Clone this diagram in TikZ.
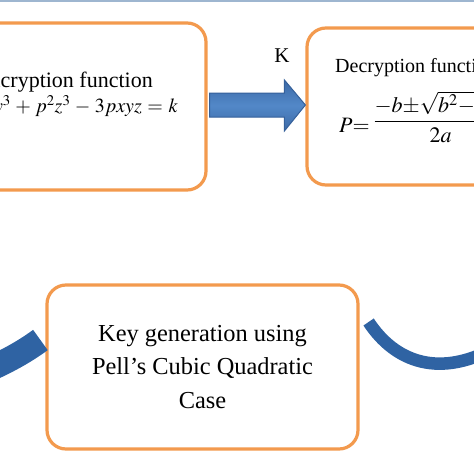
\documentclass[tikz,border=0pt]{standalone}
\usepackage{mathptmx}
\usepackage{fontspec}
\setmainfont{Liberation Serif}
\usetikzlibrary{calc}
\definecolor{boxorange}{HTML}{F39A4E}
\definecolor{topblue}{HTML}{9EB6D0}
\definecolor{arrowdark}{HTML}{3C69A6}
\definecolor{arrowlight}{HTML}{5288C8}
\definecolor{arrowedge}{HTML}{35609A}
\definecolor{curveblue}{HTML}{2F63A3}
\tikzset{
  procbox/.style={draw=boxorange, line width=3.2pt, rounded corners=19pt, fill=white, inner sep=0pt},
  blockarrow/.style={draw=arrowedge, line width=1pt, top color=arrowdark, bottom color=arrowdark, middle color=arrowlight},
  bandcurve/.style={draw=curveblue},
  titletext/.style={font=\fontsize{22}{26}\selectfont, inner sep=0pt},
  boxtext/.style={font=\fontsize{24.4}{33.5}\selectfont, align=center},
  eqtext/.style={font=\fontsize{20}{24}\selectfont, inner sep=0pt},
}
\begin{document}
\begin{tikzpicture}[x=1pt,y=-1pt]
\useasboundingbox (0,0) rectangle (474,474);
\clip (0,0) rectangle (474,474);
\fill[white] (0,0) rectangle (474,474);
\fill[topblue] (0,0) rectangle (474,2.2);

% boxes
\node[procbox, minimum width=266pt, minimum height=167pt] (enc) at (73,106.5) {};
\node[procbox, minimum width=293pt, minimum height=157pt] (dec) at (453.5,106.5) {};
\node[procbox, minimum width=311pt, minimum height=164pt, boxtext] (kg) at (202.5,367)
  {Key generation using\\Pell’s Cubic Quadratic\\Case};

% texts of the top boxes
\node[titletext, anchor=base east] (enct) at (153,87) {Encryption function};
\node[eqtext, anchor=base east] (ence) at (178,112.5)
  {\medmuskip=4mu\thickmuskip=5mu$x^3+py^3+p^2z^3-3pxyz=k$};
\node[titletext, font=\fontsize{20}{24}\selectfont, anchor=base west] (dect) at (335,72) {Decryption function};
\node[eqtext, font=\fontsize{22}{26}\selectfont, anchor=base west] (dece) at (339,132)
  {$P{=}\mkern3mu\raisebox{5pt}{$\displaystyle\frac{{-}b{\pm}\sqrt{b^2{-}4ac}}{2a}$}$};
\node[titletext, font=\fontsize{21}{25}\selectfont, anchor=base] (klab) at (282,62) {K};

% block arrow from enc to dec
\draw[blockarrow]
  ($(enc.east)+(2,-13.5)$) -- ($(dec.west)+(-21,-13.5)$) -- ($(dec.west)+(-21,-26.5)$)
  -- ($(dec.west)+(0,-1.5)$) -- ($(dec.west)+(-21,24.5)$) -- ($(dec.west)+(-21,10.5)$)
  -- ($(enc.east)+(2,10.5)$) -- cycle;

% curved bands
\coordinate (lstart) at (-40,381);
\coordinate (rend) at (500,345);
\draw[bandcurve, line width=25pt] (lstart) .. controls (-5,368) and (20,355) .. ($(kg.west)+(-5,-27)$);
\draw[bandcurve, line width=12.5pt] ($(kg.east)+(9,-45)$) .. controls (395,362) and (440,380) .. (rend);
\end{tikzpicture}
\end{document}
